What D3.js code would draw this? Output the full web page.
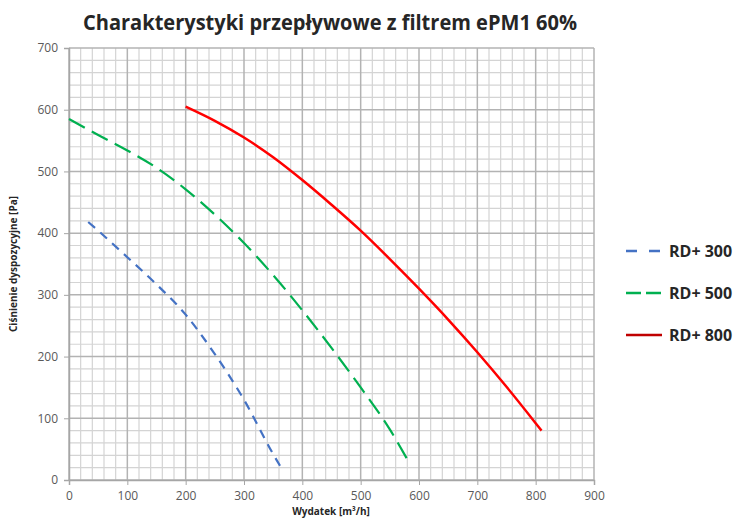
<!DOCTYPE html>
<html>
<head>
<meta charset="utf-8">
<script src="https://cdn.jsdelivr.net/npm/d3@7"></script>
<style>
    body { margin: 0; background: #fff; }
    svg { font-family: "Open Sans", "Liberation Sans", sans-serif; }
</style>
</head>
<body>
<div id="chart"></div>
<script>
// Flow characteristics, three fan sizes

const xTicks = [0, 100, 200, 300, 400, 500, 600, 700, 800, 900];
const yTicks = [0, 100, 200, 300, 400, 500, 600, 700];

const rd300 = [[33, 418], [50, 404], [100, 361], [150, 317], [200, 268], [250, 204], [300, 130], [350, 42], [363, 21]];
const rd500 = [[0, 585], [50, 559], [100, 534], [150, 506], [200, 471], [250, 430], [300, 384], [350, 332], [400, 275], [450, 214], [500, 150], [550, 82], [579, 35]];
const rd800 = [[200, 605], [250, 582], [300, 555], [350, 523], [400, 486], [450, 446], [500, 404], [550, 358], [600, 310], [650, 260], [700, 207], [750, 151], [800, 92], [810, 80]];

const seriesNames = ['RD+ 300', 'RD+ 500', 'RD+ 800'];

const width = 738, height = 520;
const margin = { top: 48, right: 144, bottom: 40, left: 69 };

const svg = d3.select('#chart').append('svg')
    .attr('width', width)
    .attr('height', height);

const x = d3.scaleLinear().domain([0, 900]).range([margin.left, width - margin.right]);
const y = d3.scaleLinear().domain([0, 700]).range([height - margin.bottom, margin.top]);

// grid: minor every 20, major every 100
const minorX = d3.range(20, 901, 20).filter(v => v % 100 !== 0);
const minorY = d3.range(20, 701, 20).filter(v => v % 100 !== 0);

const grid = svg.append('g');
grid.selectAll('.mx').data(minorX).enter().append('line')
    .attr('x1', d => x(d)).attr('x2', d => x(d))
    .attr('y1', y(0)).attr('y2', y(700))
    .attr('stroke', '#d4d4d4').attr('stroke-width', 1.2);
grid.selectAll('.my').data(minorY).enter().append('line')
    .attr('x1', x(0)).attr('x2', x(900))
    .attr('y1', d => y(d)).attr('y2', d => y(d))
    .attr('stroke', '#d4d4d4').attr('stroke-width', 1.2);
grid.selectAll('.Mx').data(xTicks).enter().append('line')
    .attr('x1', d => x(d)).attr('x2', d => x(d))
    .attr('y1', y(0)).attr('y2', y(700))
    .attr('stroke', '#b3b3b3').attr('stroke-width', 1.5);
grid.selectAll('.My').data(yTicks).enter().append('line')
    .attr('x1', x(0)).attr('x2', x(900))
    .attr('y1', d => y(d)).attr('y2', d => y(d))
    .attr('stroke', '#b3b3b3').attr('stroke-width', 1.5);

// axes
const xAxis = svg.append('g')
    .attr('transform', `translate(0,${y(0)})`)
    .call(d3.axisBottom(x).tickValues(xTicks).tickSize(5).tickPadding(6));
const yAxis = svg.append('g')
    .attr('transform', `translate(${x(0)},0)`)
    .call(d3.axisLeft(y).tickValues(yTicks).tickSize(5).tickPadding(6));

[xAxis, yAxis].forEach(a => {
    a.select('.domain').attr('stroke', '#a6a6a6').attr('stroke-width', 1.5);
    a.selectAll('.tick line').attr('stroke', '#a6a6a6');
    a.selectAll('.tick text')
        .attr('fill', '#595959')
        .style('font-size', '12px')
        .style('font-family', '"Open Sans", sans-serif');
});

// curves
const line = d3.line()
    .x(d => x(d[0]))
    .y(d => y(d[1]))
    .curve(d3.curveMonotoneX);

svg.append('path').datum(rd300)
    .attr('d', line).attr('fill', 'none')
    .attr('stroke', '#4472c4').attr('stroke-width', 2.2)
    .attr('stroke-dasharray', '9,7');
svg.append('path').datum(rd500)
    .attr('d', line).attr('fill', 'none')
    .attr('stroke', '#00b050').attr('stroke-width', 2.2)
    .attr('stroke-dasharray', '18,8');
svg.append('path').datum(rd800)
    .attr('d', line).attr('fill', 'none')
    .attr('stroke', '#ff0000').attr('stroke-width', 2.5);

// legend
const legendStyles = [
    { color: '#4472c4', dash: '11,12' },
    { color: '#00b050', dash: '15,5' },
    { color: '#c00000', dash: null }
];
const legend = svg.append('g');
seriesNames.forEach((name, i) => {
    const ly = 251 + i * 42;
    legend.append('line')
        .attr('x1', 626).attr('x2', 662)
        .attr('y1', ly).attr('y2', ly)
        .attr('stroke', legendStyles[i].color)
        .attr('stroke-width', 2.5)
        .attr('stroke-dasharray', legendStyles[i].dash);
    legend.append('text')
        .attr('x', 669).attr('y', ly + 6)
        .attr('fill', '#262626')
        .style('font-size', '16px')
        .style('font-weight', 'bold')
        .text(name);
});

// title and axis titles
svg.append('text')
    .attr('x', 330).attr('y', 30)
    .attr('text-anchor', 'middle')
    .attr('fill', '#262626')
    .attr('textLength', 494)
    .attr('lengthAdjust', 'spacingAndGlyphs')
    .style('font-size', '21px')
    .style('font-weight', 'bold')
    .text('Charakterystyki przepływowe z filtrem ePM1 60%');

svg.append('text')
    .attr('x', 331).attr('y', 515)
    .attr('text-anchor', 'middle')
    .attr('fill', '#262626')
    .style('font-size', '10px')
    .style('font-weight', 'bold')
    .text('Wydatek [m³/h]');

svg.append('text')
    .attr('transform', `translate(17,${(y(0) + y(700)) / 2}) rotate(-90)`)
    .attr('text-anchor', 'middle')
    .attr('fill', '#262626')
    .style('font-size', '10px')
    .style('font-weight', 'bold')
    .text('Ciśnienie dyspozycyjne [Pa]');
</script>
</body>
</html>
